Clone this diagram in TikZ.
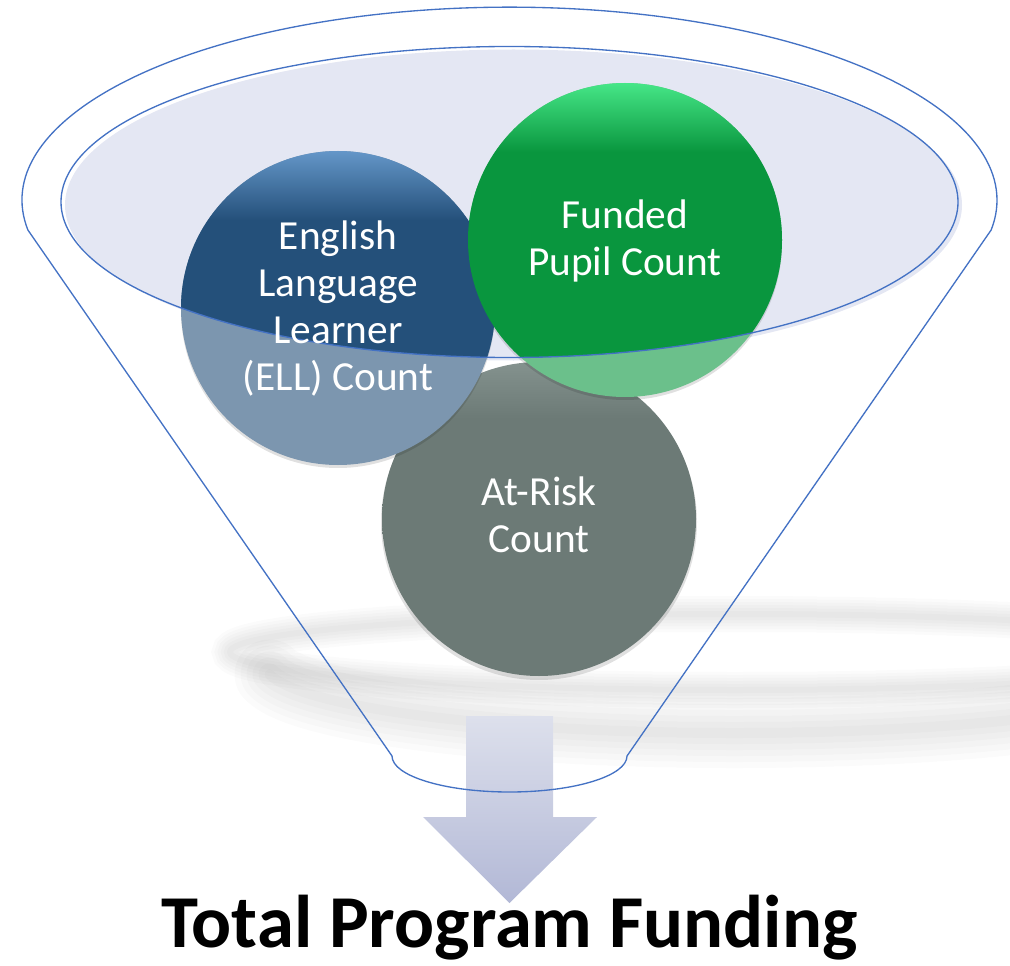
\documentclass[tikz,border=0pt]{standalone}
\usepackage{fontspec}
\setmainfont{Carlito}
\definecolor{rimblue}{RGB}{68,114,196}
\definecolor{rimfill}{RGB}{228,231,243}
\definecolor{ellmain}{RGB}{36,80,122}
\definecolor{elltop}{RGB}{100,150,200}
\definecolor{fundmain}{RGB}{9,150,62}
\definecolor{fundtop}{RGB}{70,230,135}
\definecolor{riskmain}{RGB}{108,122,118}
\definecolor{risktop}{RGB}{132,146,142}
\definecolor{arrowtop}{RGB}{221,224,236}
\definecolor{arrowbot}{RGB}{178,184,214}
\pgfdeclareverticalshading{ellcap}{100bp}{color(0bp)=(ellmain); color(64bp)=(ellmain); color(75bp)=(elltop); color(100bp)=(elltop)}
\pgfdeclareverticalshading{fundcap}{100bp}{color(0bp)=(fundmain); color(64bp)=(fundmain); color(75bp)=(fundtop); color(100bp)=(fundtop)}
\pgfdeclareverticalshading{riskcap}{100bp}{color(0bp)=(riskmain); color(66bp)=(riskmain); color(75bp)=(risktop); color(100bp)=(risktop)}
\tikzset{
  rimline/.style={draw=rimblue, line width=1pt},
  bubbletext/.style={text=white, align=center, inner sep=0pt, font=\fontsize{31}{35.25}\selectfont},
  dropshade/.style={fill=black, opacity=0.12},
  floorshade/.style={black, opacity=0.014, line cap=round}
}
\begin{document}
\begin{tikzpicture}[x=0.75pt,y=0.75pt,yscale=-1,xscale=1]
        \useasboundingbox (0,0) rectangle (1010,966);
        %Shape: Floor shadow
        \foreach \w in {36,30,24,18,12,6}
          \draw [floorshade, line width=\w*0.75pt] (735,652) ellipse [x radius=505, y radius=38];
        \foreach \w in {70,58,46,34,22,10}
          \draw [floorshade, line width=\w*0.75pt] (735,665) ++(172:470 and 68) arc [start angle=172, end angle=8, x radius=470, y radius=68];
        %Shape: Down arrow
        \shade [top color=arrowtop, bottom color=arrowbot] (466,716) -- (553,716) -- (553,817) -- (597,817) -- (509.5,903) -- (423,817) -- (466,817) -- cycle;
        %Shape: Funnel body
        \draw [rimline] (27.9,230) arc [start angle=171.1, end angle=368.9, x radius=487.5, y radius=193] -- (627,756) arc [start angle=0, end angle=180, x radius=117.5, y radius=36] -- cycle;
        %Shape: Rim fill
        \fill [rimfill] (513.5,205) ellipse [x radius=448.5, y radius=155.5];
        %Shape: Circle (at risk)
        \fill [dropshade] (539,522) circle [radius=158];
        \shade [shading=riskcap] (539,519) circle [radius=157];
        %Shape: Circles below the rim
        \fill [dropshade] (338,311) circle [radius=157];
        \fill [ellmain!60!white] (338,308) circle [radius=157];
        \fill [dropshade] (625,243) circle [radius=157];
        \fill [fundmain!60!white] (625,240) circle [radius=157];
        %Shape: Circles inside the rim
        \begin{scope}
          \clip (509.5,202) ellipse [x radius=448.5, y radius=155.5];
          \shade [shading=ellcap] (338,308) circle [radius=157];
          \shade [shading=fundcap] (625,240) circle [radius=157];
        \end{scope}
        %Shape: Rim
        \draw [rimline] (509.5,202) ellipse [x radius=448.5, y radius=155.5];
        % Text Node
        \node [bubbletext] (ell) at (338,309) {English\\Language\\Learner\\(ELL) Count};
        % Text Node
        \node [bubbletext] (funded) at (625,241) {Funded\\Pupil Count};
        % Text Node
        \node [bubbletext] (risk) at (539,515) {At-Risk\\Count};
        % Text Node
        \node [font=\bfseries\fontsize{56}{60}\selectfont, anchor=base, inner sep=0pt] (total) at (509.5,947) {Total Program Funding};
\end{tikzpicture}
\end{document}
